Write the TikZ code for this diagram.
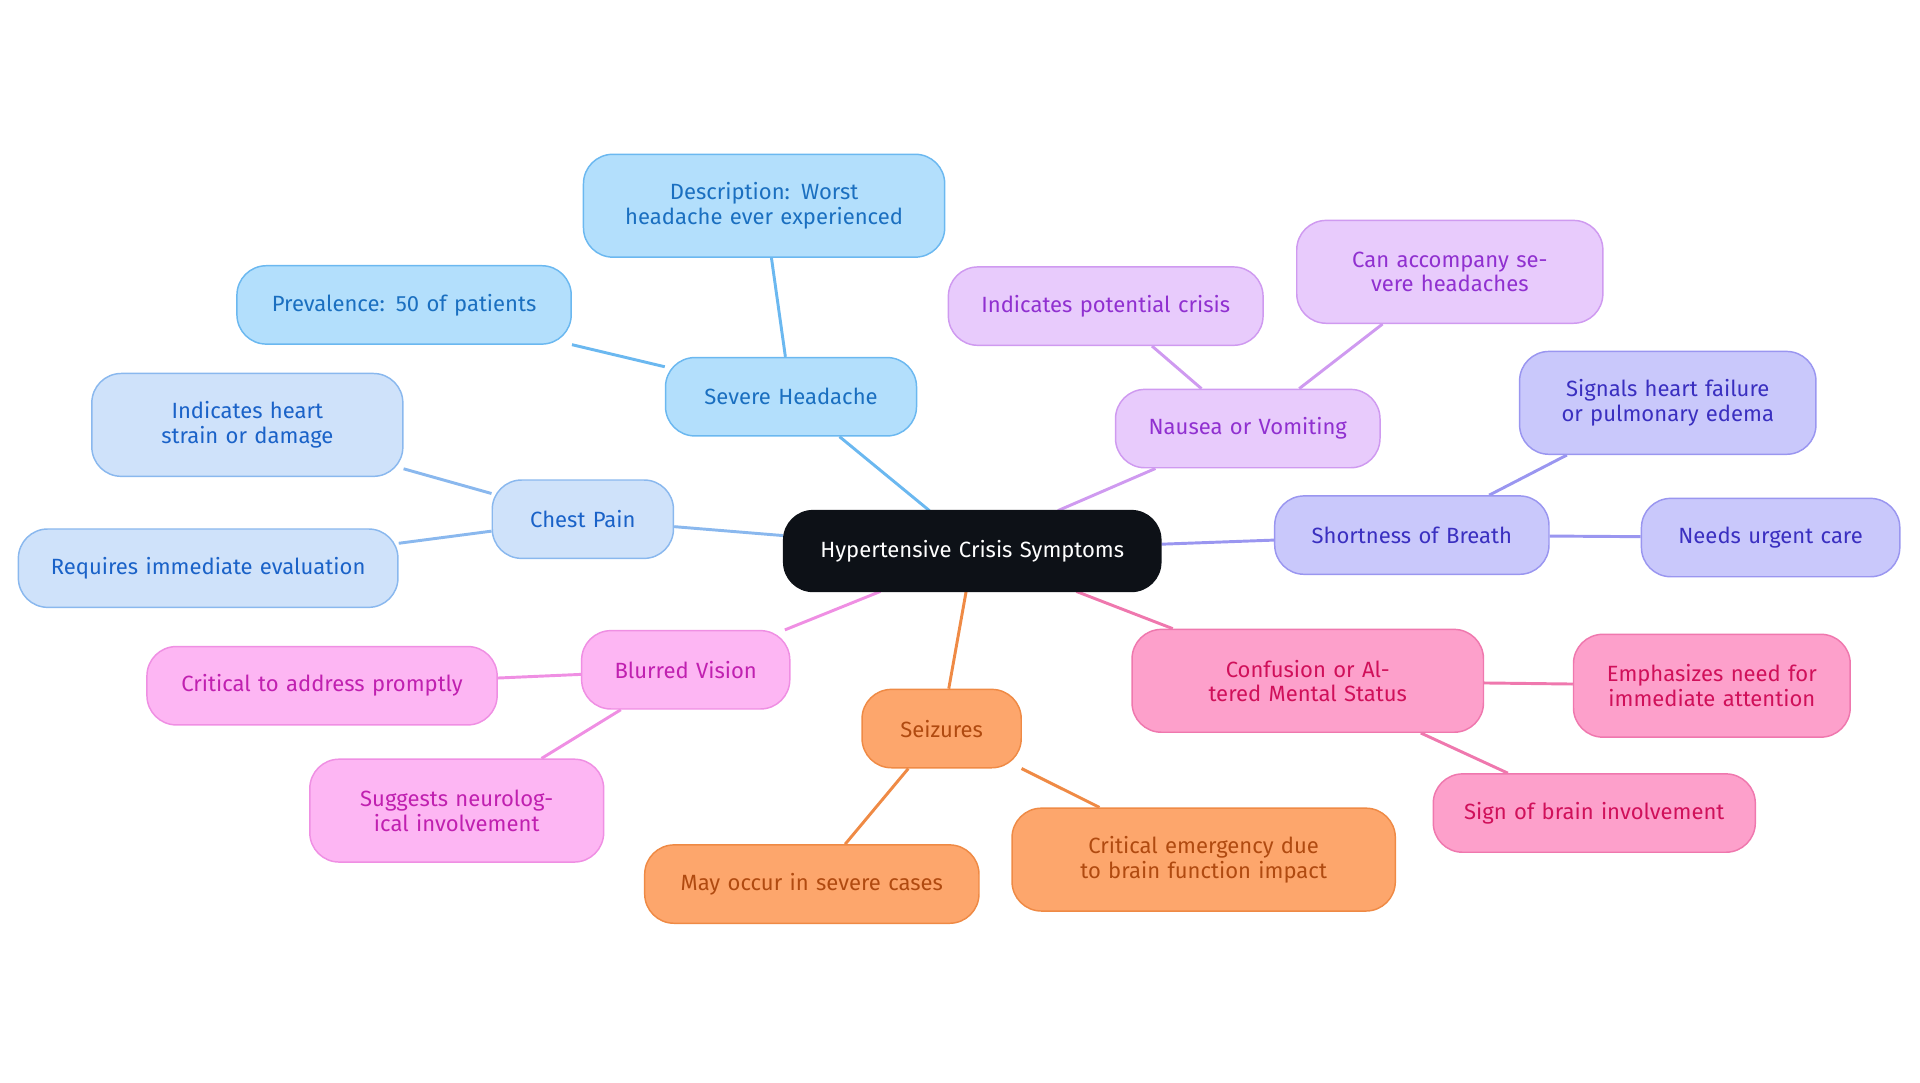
\documentclass[tikz,border=0pt]{standalone}
\usepackage{fontspec}
\setmainfont{Fira Sans}
\usetikzlibrary{backgrounds}
\definecolor{cB}{HTML}{B3DFFC}\definecolor{dB}{HTML}{6BB8F0}\definecolor{tB}{HTML}{1A6FC0}
\definecolor{cL}{HTML}{CFE2FA}\definecolor{dL}{HTML}{8AB8EE}\definecolor{tL}{HTML}{1A62C8}
\definecolor{cP}{HTML}{FDB6F3}\definecolor{dP}{HTML}{EF8FE3}\definecolor{tP}{HTML}{C020B0}
\definecolor{cO}{HTML}{FDA66C}\definecolor{dO}{HTML}{EF8A45}\definecolor{tO}{HTML}{B04A10}
\definecolor{cR}{HTML}{FDA0CB}\definecolor{dR}{HTML}{EF78AE}\definecolor{tR}{HTML}{D0105A}
\definecolor{cV}{HTML}{C9C8FB}\definecolor{dV}{HTML}{9A96F0}\definecolor{tV}{HTML}{3A2FC0}
\definecolor{cM}{HTML}{E8CBFC}\definecolor{dM}{HTML}{CF9AF0}\definecolor{tM}{HTML}{9030D0}
\definecolor{cC}{HTML}{0D1117}
\tikzset{
 box/.style={rounded corners=12pt,line width=0.6pt,align=center,inner sep=0pt,font=\fontsize{9}{10}\selectfont},
 sB/.style={box,fill=cB,draw=dB,text=tB},
 sL/.style={box,fill=cL,draw=dL,text=tL},
 sP/.style={box,fill=cP,draw=dP,text=tP},
 sO/.style={box,fill=cO,draw=dO,text=tO},
 sR/.style={box,fill=cR,draw=dR,text=tR},
 sV/.style={box,fill=cV,draw=dV,text=tV},
 sM/.style={box,fill=cM,draw=dM,text=tM},
 sC/.style={box,fill=cC,draw=cC,text=white},
 ln/.style={line width=1.2pt}
}
\newcommand{\nd}[7]{\node[#6,minimum width=#4*0.5pt,minimum height=#5*0.5pt,text width=#4*0.5pt-14pt] (#1) at (#2,#3) {#7};}
\begin{document}
\begin{tikzpicture}[x=0.5pt,y=-0.5pt]
\useasboundingbox (0,0) rectangle (1568,884);
\nd{c}{794}{450}{308}{66}{sC}{Hypertensive Crisis Symptoms}
\nd{sh}{646}{324}{205}{64}{sB}{Severe Headache}
\nd{sh1}{624}{168}{295}{84}{sB}{Description: Worst headache ever experienced}
\nd{sh2}{330}{249}{273}{64}{sB}{Prevalence: 50 of patients}
\nd{cp}{476}{424}{148}{64}{sL}{Chest Pain}
\nd{cp1}{202}{347}{254}{84}{sL}{Indicates heart strain or damage}
\nd{cp2}{170}{464}{310}{64}{sL}{Requires immediate evaluation}
\nd{bv}{560}{547}{170}{64}{sP}{Blurred Vision}
\nd{bv1}{263}{560}{286}{64}{sP}{Critical to address promptly}
\nd{bv2}{373}{662}{240}{84}{sP}{Suggests neurological involvement}
\nd{sz}{769}{595}{130}{64}{sO}{Seizures}
\nd{sz1}{663}{722}{273}{64}{sO}{May occur in severe cases}
\nd{sz2}{983}{702}{313}{84}{sO}{Critical emergency due to brain function impact}
\nd{cf}{1068}{556}{287}{84}{sR}{Confusion or Altered Mental Status}
\nd{cf1}{1398}{560}{226}{84}{sR}{Emphasizes need for immediate attention}
\nd{cf2}{1302}{664}{263}{64}{sR}{Sign of brain involvement}
\nd{sb}{1153}{437}{224}{64}{sV}{Shortness of Breath}
\nd{sb1}{1362}{329}{242}{84}{sV}{Signals heart failure or pulmonary edema}
\nd{sb2}{1446}{439}{211}{64}{sV}{Needs urgent care}
\nd{nv}{1019}{350}{216}{64}{sM}{Nausea or Vomiting}
\nd{nv1}{903}{250}{257}{64}{sM}{Indicates potential crisis}
\nd{nv2}{1184}{222}{250}{84}{sM}{Can accompany severe headaches}
\begin{scope}[on background layer]
\draw[ln,dB] (c.center)+(-35,-33) -- (sh) (sh) -- (sh1) (sh) -- (sh2);
\draw[ln,dL] (c) -- (cp) (cp) -- (cp1) (cp) -- (cp2);
\draw[ln,dP] (c.center)+(-75,33) -- (bv) (bv) -- (bv1) (bv) -- (bv2);
\draw[ln,dO] (c.center)+(-5,33) -- (sz) (sz) -- (sz1) (sz) -- (sz2);
\draw[ln,dR] (c.center)+(85,33) -- (cf) (cf) -- (cf1) (cf) -- (cf2);
\draw[ln,dV] (c) -- (sb) (sb) -- (sb1) (sb) -- (sb2);
\draw[ln,dM] (c.center)+(70,-33) -- (nv) (nv) -- (nv1) (nv) -- (nv2);
\end{scope}
\end{tikzpicture}
\end{document}
